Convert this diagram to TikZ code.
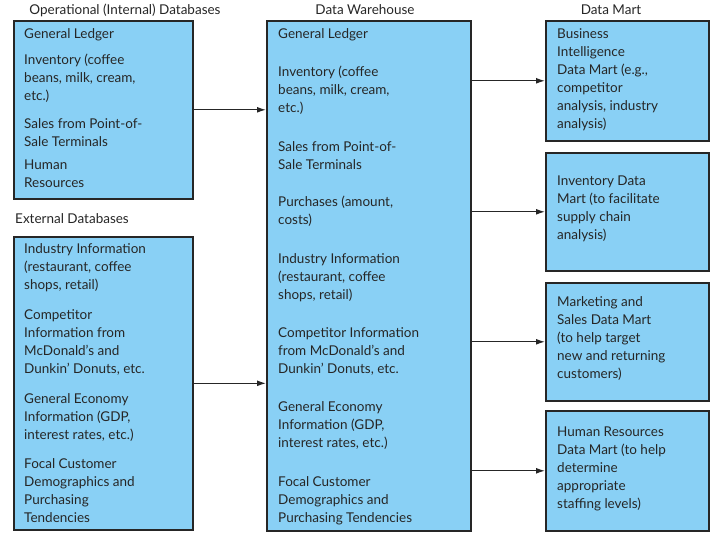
\documentclass[tikz,border=0pt]{standalone}
\usepackage{fontspec}
\setmainfont{Lato}
\usetikzlibrary{arrows.meta}
\begin{document}
\begin{tikzpicture}[x=1pt, y=-1pt,
    box/.style={draw=black!85, line width=1.6pt, fill=skyblue, anchor=north west, inner sep=0pt},
    item/.style={anchor=north west, align=left, inner sep=0pt, font=\fontsize{13.5}{18}\selectfont, text=black!85},
    head/.style={inner sep=0pt, font=\fontsize{13.5}{16}\selectfont, text=black!85},
    arr/.style={-{Latex[length=9pt,width=6pt]}, line width=1.3pt, draw=black!85}
  ]
  \definecolor{skyblue}{RGB}{137,208,245}
  \useasboundingbox (0,0) rectangle (719,545);
  % headings
  \node[head] (hop) at (125,10) {Operational (Internal) Databases};
  \node[head] (hdw) at (365,10) {Data Warehouse};
  \node[head] (hdm) at (611,10) {Data Mart};
  \node[head, anchor=west] (hex) at (15,219) {External Databases};

  % boxes
  \node[box, minimum width=179pt, minimum height=178pt] (op) at (13,20) {};
  \node[box, minimum width=179pt, minimum height=293pt] (ex) at (13,236) {};
  \node[box, minimum width=204pt, minimum height=510pt] (dw) at (266,20) {};
  \node[box, minimum width=163pt, minimum height=120pt] (dm1) at (545,20) {};
  \node[box, minimum width=163pt, minimum height=118pt] (dm2) at (545,152) {};
  \node[box, minimum width=163pt, minimum height=118pt] (dm3) at (545,282) {};
  \node[box, minimum width=163pt, minimum height=120pt] (dm4) at (545,410) {};

  % operational
  \node[item] (op1) at (24,28) {General Ledger};
  \node[item] (op2) at (24,54) {Inventory (coffee\\beans, milk, cream,\\etc.)};
  \node[item] (op3) at (24,118) {Sales from Point-of-\\Sale Terminals};
  \node[item] (op4) at (24,160) {Human\\Resources};

  % external
  \node[item] (ex1) at (24,243) {Industry Information\\(restaurant, coffee\\shops, retail)};
  \node[item] (ex2) at (24,309) {Competitor\\Information from\\McDonald’s and\\Dunkin’ Donuts, etc.};
  \node[item] (ex3) at (24,393) {General Economy\\Information (GDP,\\interest rates, etc.)};
  \node[item] (ex4) at (24,458) {Focal Customer\\Demographics and\\Purchasing\\Tendencies};

  % warehouse
  \node[item] (dw1) at (278,28) {General Ledger};
  \node[item] (dw2) at (278,66) {Inventory (coffee\\beans, milk, cream,\\etc.)};
  \node[item] (dw3) at (278,141) {Sales from Point-of-\\Sale Terminals};
  \node[item] (dw4) at (278,196) {Purchases (amount,\\costs)};
  \node[item] (dw5) at (278,253) {Industry Information\\(restaurant, coffee\\shops, retail)};
  \node[item] (dw6) at (278,327) {Competitor Information\\from McDonald’s and\\Dunkin’ Donuts, etc.};
  \node[item] (dw7) at (278,401) {General Economy\\Information (GDP,\\interest rates, etc.)};
  \node[item] (dw8) at (278,476) {Focal Customer\\Demographics and\\Purchasing Tendencies};

  % data marts
  \node[item] (dmt1) at (557,28) {Business\\Intelligence\\Data Mart (e.g.,\\competitor\\analysis, industry\\analysis)};
  \node[item] (dmt2) at (557,176) {Inventory Data\\Mart (to facilitate\\supply chain\\analysis)};
  \node[item] (dmt3) at (557,296) {Marketing and\\Sales Data Mart\\(to help target\\new and returning\\customers)};
  \node[item] (dmt4) at (557,427) {Human Resources\\Data Mart (to help\\determine\\appropriate\\staffing levels)};

  % arrows
  \draw[arr] (op.east) -- (op.east -| dw.west);
  \draw[arr] (ex.east) -- (ex.east -| dw.west);
  \foreach \m in {dm1,dm2,dm3,dm4}
    \draw[arr] (\m.west -| dw.east) -- (\m.west);
\end{tikzpicture}
\end{document}
